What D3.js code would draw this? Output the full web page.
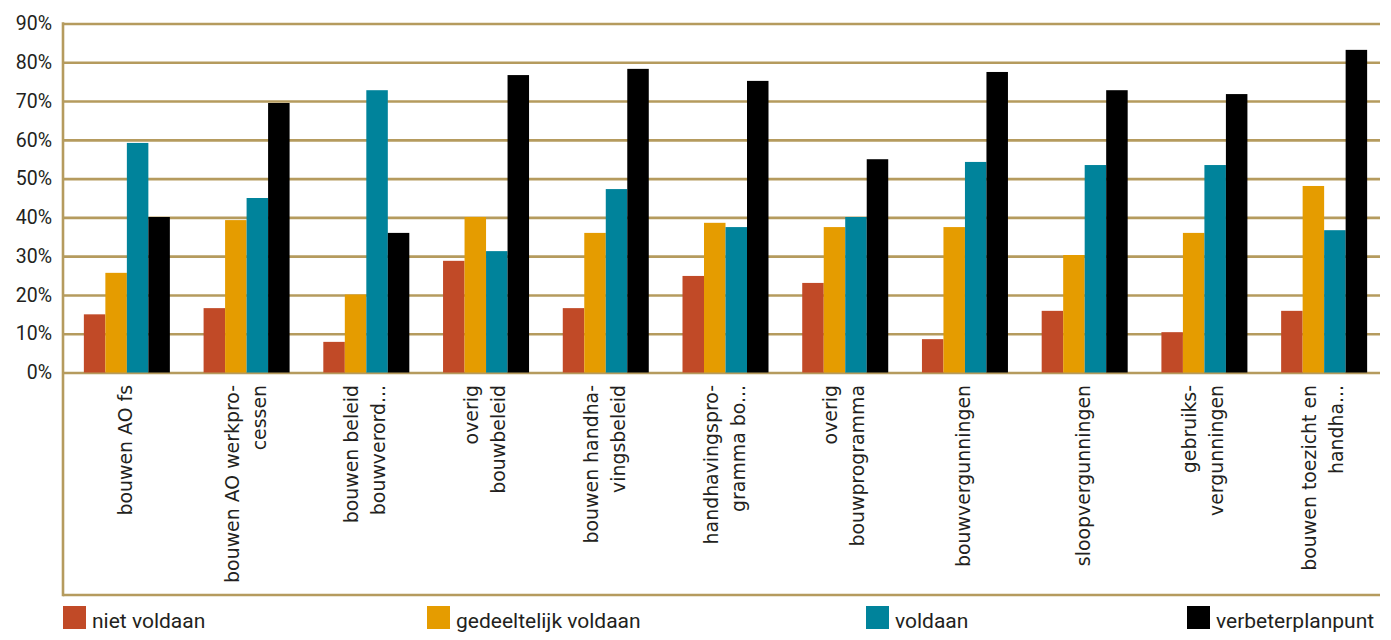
<!DOCTYPE html>
<html>
<head>
<meta charset="utf-8">
<script src="https://cdn.jsdelivr.net/npm/d3@7/dist/d3.min.js"></script>
<style>
  html, body { margin: 0; padding: 0; background: #ffffff; }
  svg { display: block; }
</style>
</head>
<body>
<svg id="chart" width="1391" height="640"></svg>
<script>
// ---- data ----
const categories = [
  ["bouwen AO fs"],
  ["bouwen AO werkpro-", "cessen"],
  ["bouwen beleid", "bouwverord..."],
  ["overig", "bouwbeleid"],
  ["bouwen handha-", "vingsbeleid"],
  ["handhavingspro-", "gramma bo..."],
  ["overig", "bouwprogramma"],
  ["bouwvergunningen"],
  ["sloopvergunningen"],
  ["gebruiks-", "vergunningen"],
  ["bouwen toezicht en", "handha..."]
];
const seriesNames = ["niet voldaan", "gedeeltelijk voldaan", "voldaan", "verbeterplanpunt"];
const nietVoldaan          = [15.0, 16.6,  7.9, 28.8, 16.6, 24.9, 23.1,  8.6, 15.9, 10.4, 15.9];
const gedeeltelijkVoldaan  = [25.7, 39.3, 20.1, 40.1, 36.0, 38.6, 37.5, 37.5, 30.3, 36.0, 48.1];
const voldaan              = [59.2, 45.0, 72.8, 31.3, 47.3, 37.5, 40.1, 54.3, 53.5, 53.5, 36.7];
const verbeterplanpunt     = [40.1, 69.5, 36.0, 76.7, 78.3, 75.2, 55.0, 77.5, 72.8, 71.8, 83.2];
const yTicks = [0, 10, 20, 30, 40, 50, 60, 70, 80, 90];
const seriesColors = ["#c14a27", "#e59c00", "#00839b", "#000000"];

const seriesValues = [nietVoldaan, gedeeltelijkVoldaan, voldaan, verbeterplanpunt];
const catKeys = categories.map((c, i) => "c" + i);

// ---- layout ----
const svg = d3.select("#chart");
const plotLeft = 63, plotRight = 1380, frameBottom = 595;
const gridColor = "#b59b5e";
const textColor = "#231f20";

const x = d3.scaleBand().domain(catKeys).range([67, 1384]).paddingInner(0).paddingOuter(0);
const groupW = 86;
const xs = d3.scaleBand().domain(seriesNames).range([0, groupW]);
const y = d3.scaleLinear().domain([0, 90]).range([372.5, 23.5]);

// gridlines + y labels
const yAxis = d3.axisLeft(y)
  .tickValues(yTicks)
  .tickFormat(d => d + "%")
  .tickSizeInner(-(plotRight - plotLeft))
  .tickSizeOuter(0)
  .tickPadding(11);
const gy = svg.append("g").attr("transform", `translate(${plotLeft},0)`).call(yAxis);
gy.select(".domain").remove();
gy.selectAll(".tick line").attr("stroke", gridColor).attr("stroke-width", 2.6);
gy.selectAll(".tick text")
  .attr("fill", textColor)
  .style("font-family", "Roboto, 'Noto Sans', sans-serif")
  .style("font-size", "19.5px");

// frame: left and bottom border
svg.append("line").attr("x1", plotLeft).attr("x2", plotLeft)
  .attr("y1", y(90) - 1.3).attr("y2", frameBottom + 1.3)
  .attr("stroke", gridColor).attr("stroke-width", 2.6);
svg.append("line").attr("x1", plotLeft).attr("x2", plotRight)
  .attr("y1", frameBottom).attr("y2", frameBottom)
  .attr("stroke", gridColor).attr("stroke-width", 2.6);

// bars
const groups = svg.append("g").selectAll("g")
  .data(catKeys)
  .join("g")
  .attr("transform", d => `translate(${x(d) + (x.bandwidth() - groupW) / 2},0)`);
groups.selectAll("rect")
  .data((d, i) => seriesNames.map((s, j) => ({ s, j, v: seriesValues[j][i] })))
  .join("rect")
  .attr("x", d => xs(d.s))
  .attr("width", xs.bandwidth())
  .attr("y", d => y(d.v))
  .attr("height", d => y(0) - y(d.v))
  .attr("fill", d => seriesColors[d.j]);

// category labels (rotated)
const lineH = 27, labelTop = 385;
const lab = svg.append("g").selectAll("text")
  .data(categories)
  .join("text")
  .attr("text-anchor", "end")
  .attr("fill", textColor)
  .style("font-family", "'DejaVu Sans', sans-serif")
  .style("font-size", "18.9px")
  .attr("transform", (d, i) => `translate(0,${labelTop}) rotate(-90)`);
lab.each(function (lines, i) {
  const cx = x(catKeys[i]) + x.bandwidth() / 2;
  const n = lines.length;
  d3.select(this).selectAll("tspan")
    .data(lines)
    .join("tspan")
    .attr("x", 0)
    .attr("y", (l, k) => cx + (k - (n - 1) / 2) * lineH + 5.5)
    .text(l => l);
});

// legend
const legendX = [63, 427, 866, 1187];
const leg = svg.append("g").selectAll("g")
  .data(seriesNames)
  .join("g")
  .attr("transform", (d, i) => `translate(${legendX[i]},606)`);
leg.append("rect").attr("width", 23).attr("height", 23).attr("fill", (d, i) => seriesColors[i]);
leg.append("text")
  .attr("x", 29).attr("y", 21.5)
  .attr("fill", textColor)
  .style("font-family", "Roboto, 'Noto Sans', sans-serif")
  .style("font-size", "21px")
  .text(d => d);
</script>
</body>
</html>
